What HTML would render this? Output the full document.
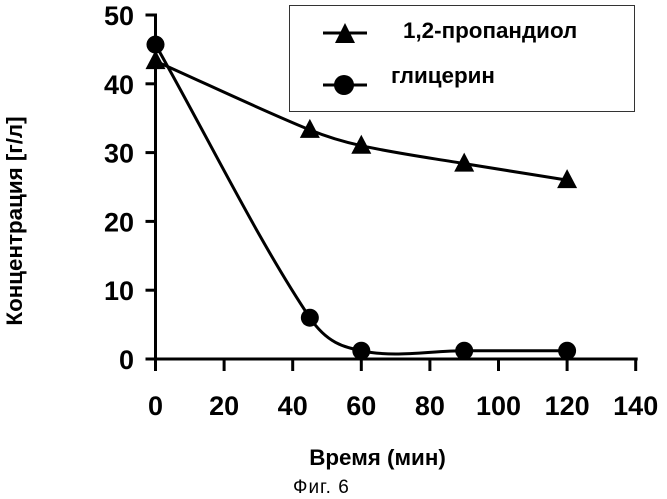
<!DOCTYPE html>
<html lang="ru">
<head>
<meta charset="utf-8">
<title>Фиг. 6</title>
<style>
html,body{margin:0;padding:0;background:#fff;}
svg{display:block;}
text{font-family:"Liberation Sans",sans-serif;fill:#000;}
.tick-label{font-size:27px;font-weight:bold;}
.axis-title{font-size:22.4px;font-weight:bold;}
.legend-label{font-size:22.4px;font-weight:bold;}
</style>
</head>
<body>
<svg id="chart" xmlns="http://www.w3.org/2000/svg" width="667" height="499" viewBox="0 0 667 499">
<rect x="289.5" y="5.5" width="345" height="106" fill="#fff" stroke="#333" stroke-width="1"/>
<g id="axes"></g>
<g id="series"></g>
<g>
<line x1="323" y1="33" x2="367" y2="33" stroke="#000" stroke-width="3"/>
<polygon points="345,23 355,43 335,43" fill="#000"/>
<text class="legend-label" x="403" y="38">1,2-пропандиол</text>
<line x1="323" y1="85" x2="367" y2="85" stroke="#000" stroke-width="3"/>
<circle cx="344" cy="85" r="10" fill="#000"/>
<text class="legend-label" x="391" y="83">глицерин</text>
</g>
<text class="axis-title" transform="translate(22,221) rotate(-90)" text-anchor="middle">Концентрация [г/л]</text>
<text class="axis-title" x="377.5" y="465" text-anchor="middle">Время (мин)</text>
<text x="293" y="493" font-size="19" letter-spacing="1" text-anchor="start">Фиг. 6</text>
</svg>
<script>
const times = [0, 45, 60, 90, 120];
const propanediol = [43.3, 33.3, 31, 28.4, 26];
const glycerol = [45.7, 6, 1.2, 1.2, 1.2];
const xTicks = [0, 20, 40, 60, 80, 100, 120, 140];
const yTicks = [0, 10, 20, 30, 40, 50];

const NS = 'http://www.w3.org/2000/svg';
const xScale = v => 155.5 + v * 3.43;
const yScale = v => 359 - v * 6.88;
const axesG = document.getElementById('axes');
const seriesG = document.getElementById('series');

function make(tag, attrs, parent) {
  const el = document.createElementNS(NS, tag);
  for (const k in attrs) el.setAttribute(k, attrs[k]);
  parent.appendChild(el);
  return el;
}

const xAxis = make('line', {x1: xScale(0) - 10, y1: yScale(0), x2: xScale(140) + 2, y2: yScale(0), stroke: '#000', 'stroke-width': 3}, axesG);


const yAxis = make('line', {x1: xScale(0), y1: yScale(50) - 1.5, x2: xScale(0), y2: yScale(0) + 12, stroke: '#000', 'stroke-width': 3}, axesG);



xTicks.forEach(t => {
  const tick = make('line', {x1: xScale(t), y1: yScale(0), x2: xScale(t), y2: yScale(0) + 12, stroke: '#000', 'stroke-width': 3}, axesG);
  
  
  const label = make('text', {x: xScale(t), y: 415, 'text-anchor': 'middle', class: 'tick-label'}, axesG);
  label.textContent = t;
  
  
});
yTicks.forEach(t => {
  const tick = make('line', {x1: xScale(0) - 10, y1: yScale(t), x2: xScale(0), y2: yScale(t), stroke: '#000', 'stroke-width': 3}, axesG);
  
  
  const label = make('text', {x: 134, y: yScale(t) + 10, 'text-anchor': 'end', class: 'tick-label'}, axesG);
  label.textContent = t;
  
  
});

function smoothPath(xs, ys) {
  const n = xs.length;
  const slope = i => {
    const a = Math.max(i - 1, 0), b = Math.min(i + 1, n - 1);
    return (ys[b] - ys[a]) / (xs[b] - xs[a]);
  };
  let d = 'M' + xScale(xs[0]) + ' ' + yScale(ys[0]);
  for (let i = 0; i < n - 1; i++) {
    const dt = (xs[i + 1] - xs[i]) / 3;
    d += ' C' + xScale(xs[i] + dt) + ' ' + yScale(ys[i] + slope(i) * dt) + ' ' +
         xScale(xs[i + 1] - dt) + ' ' + yScale(ys[i + 1] - slope(i + 1) * dt) + ' ' +
         xScale(xs[i + 1]) + ' ' + yScale(ys[i + 1]);
  }
  return d;
}

const glyLine = make('path', {d: smoothPath(times, glycerol), fill: 'none', stroke: '#000', 'stroke-width': 3}, seriesG);


const proLine = make('path', {d: smoothPath(times, propanediol), fill: 'none', stroke: '#000', 'stroke-width': 3}, seriesG);



times.forEach((t, i) => {
  const x = xScale(t), y = yScale(propanediol[i]);
  const tri = make('polygon', {points: (x) + ',' + (y - 11) + ' ' + (x + 10) + ',' + (y + 8) + ' ' + (x - 10) + ',' + (y + 8), fill: '#000'}, seriesG);
  
  
});
times.forEach((t, i) => {
  const dot = make('circle', {cx: xScale(t), cy: yScale(glycerol[i]), r: 9, fill: '#000'}, seriesG);
  
  
});
</script>
</body>
</html>
